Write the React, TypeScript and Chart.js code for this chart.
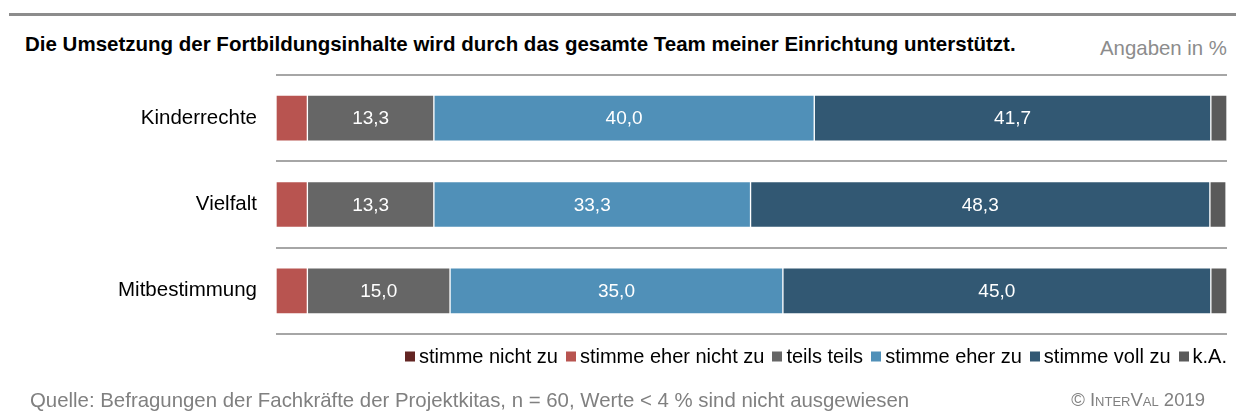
import React, { useEffect, useRef } from "react";
import { Chart, registerables } from "chart.js";

Chart.register(...registerables);

const titleText =
  "Die Umsetzung der Fortbildungsinhalte wird durch das gesamte Team meiner Einrichtung unterstützt.";
const unitText = "Angaben in %";
const sourceText =
  "Quelle: Befragungen der Fachkräfte der Projektkitas, n = 60, Werte < 4 % sind nicht ausgewiesen";

const categories = ["Kinderrechte", "Vielfalt", "Mitbestimmung"];
const seriesNames = [
  "stimme nicht zu",
  "stimme eher nicht zu",
  "teils teils",
  "stimme eher zu",
  "stimme voll zu",
  "k.A.",
];
const stimmeNichtZu = [0, 0, 0];
const stimmeEherNichtZu = [3.3, 3.3, 3.3];
const teilsTeils = [13.3, 13.3, 15.0];
const stimmeEherZu = [40.0, 33.3, 35.0];
const stimmeVollZu = [41.7, 48.3, 45.0];
const keineAngabe = [1.7, 1.7, 1.7];
const seriesValues = [
  stimmeNichtZu,
  stimmeEherNichtZu,
  teilsTeils,
  stimmeEherZu,
  stimmeVollZu,
  keineAngabe,
];
const seriesColors = ["#632523", "#b85450", "#666666", "#5090b8", "#325873", "#5a5a5a"];
const labelThreshold = 4;

const FONT = "'Liberation Sans', Arial, Helvetica, sans-serif";

const valueLabels = {
  id: "valueLabels",
  afterDatasetsDraw(chart: any) {
    const ctx = chart.ctx;
    ctx.save();
    ctx.font = `19px ${FONT}`;
    ctx.fillStyle = "#ffffff";
    ctx.textAlign = "center";
    ctx.textBaseline = "middle";
    chart.data.datasets.forEach((ds: any, i: number) => {
      const meta = chart.getDatasetMeta(i);
      meta.data.forEach((el: any, j: number) => {
        const v = ds.data[j];
        if (v >= labelThreshold) {
          const c = el.getCenterPoint();
          ctx.fillText(v.toFixed(1).replace(".", ","), c.x, c.y + 1);
        }
      });
    });
    ctx.restore();
  },
};

export default function App() {
  const ref = useRef<HTMLCanvasElement | null>(null);

  useEffect(() => {
    if (!ref.current) return;
    const chart = new Chart(ref.current, {
      type: "bar",
      data: {
        labels: categories,
        datasets: seriesNames.map((name, i) => ({
          label: name,
          data: seriesValues[i],
          backgroundColor: seriesColors[i],
          borderColor: "#ffffff",
          borderWidth: 1,
          borderSkipped: false,
          barThickness: 46,
        })),
      },
      options: {
        indexAxis: "y",
        responsive: false,
        animation: false,
        layout: { padding: { left: 0, right: 10, top: 75, bottom: 79 } },
        plugins: {
          legend: { display: false },
          tooltip: { enabled: false },
          title: { display: false },
        },
        scales: {
          x: { stacked: true, min: 0, max: 100, display: false },
          y: {
            stacked: true,
            afterFit: (scale: any) => {
              scale.width = 276;
            },
            border: { display: false },
            grid: { color: "#a6a6a6", lineWidth: 2, drawTicks: false, offset: true },
            ticks: { color: "#000000", font: { family: FONT, size: 20.5 }, padding: 19 },
          },
        },
      },
      plugins: [valueLabels],
    } as any);
    return () => chart.destroy();
  }, []);

  return (
    <div
      style={{
        position: "fixed",
        left: 0,
        top: 0,
        width: 1237,
        height: 413,
        background: "#fff",
        fontFamily: FONT,
        overflow: "hidden",
      }}
    >
      <div style={{ position: "absolute", left: 9, top: 13, width: 1227, height: 3, background: "#8c8c8c" }} />
      <div
        style={{
          position: "absolute",
          left: 25,
          top: 44,
          transform: "translateY(-50%)",
          fontWeight: "bold",
          fontSize: 20.5,
          color: "#000",
          whiteSpace: "nowrap",
        }}
      >
        {titleText}
      </div>
      <div
        style={{
          position: "absolute",
          right: 10,
          top: 48,
          transform: "translateY(-50%)",
          fontSize: 20.4,
          color: "#8c8c8c",
          whiteSpace: "nowrap",
        }}
      >
        {unitText}
      </div>
      <canvas ref={ref} width={1237} height={413} style={{ position: "absolute", left: 0, top: 0 }} />
      <div
        style={{
          position: "absolute",
          right: 10,
          top: 356,
          transform: "translateY(-50%)",
          display: "flex",
          alignItems: "center",
          fontSize: 20,
          color: "#000",
          whiteSpace: "nowrap",
        }}
      >
        {seriesNames.map((name, i) => (
          <span key={name} style={{ display: "flex", alignItems: "center", marginLeft: i === 0 ? 0 : 8 }}>
            <span
              style={{ display: "inline-block", width: 10, height: 10, background: seriesColors[i], marginRight: 4 }}
            />
            {name}
          </span>
        ))}
      </div>
      <div
        style={{
          position: "absolute",
          left: 30,
          top: 400,
          transform: "translateY(-50%)",
          fontSize: 20.4,
          color: "#808080",
          whiteSpace: "nowrap",
        }}
      >
        {sourceText}
      </div>
      <div
        style={{
          position: "absolute",
          right: 32,
          top: 400,
          transform: "translateY(-50%)",
          fontSize: 18.5,
          color: "#808080",
          whiteSpace: "nowrap",
        }}
      >
        © <span style={{ fontVariant: "small-caps" }}>InterVal</span> 2019
      </div>
    </div>
  );
}
